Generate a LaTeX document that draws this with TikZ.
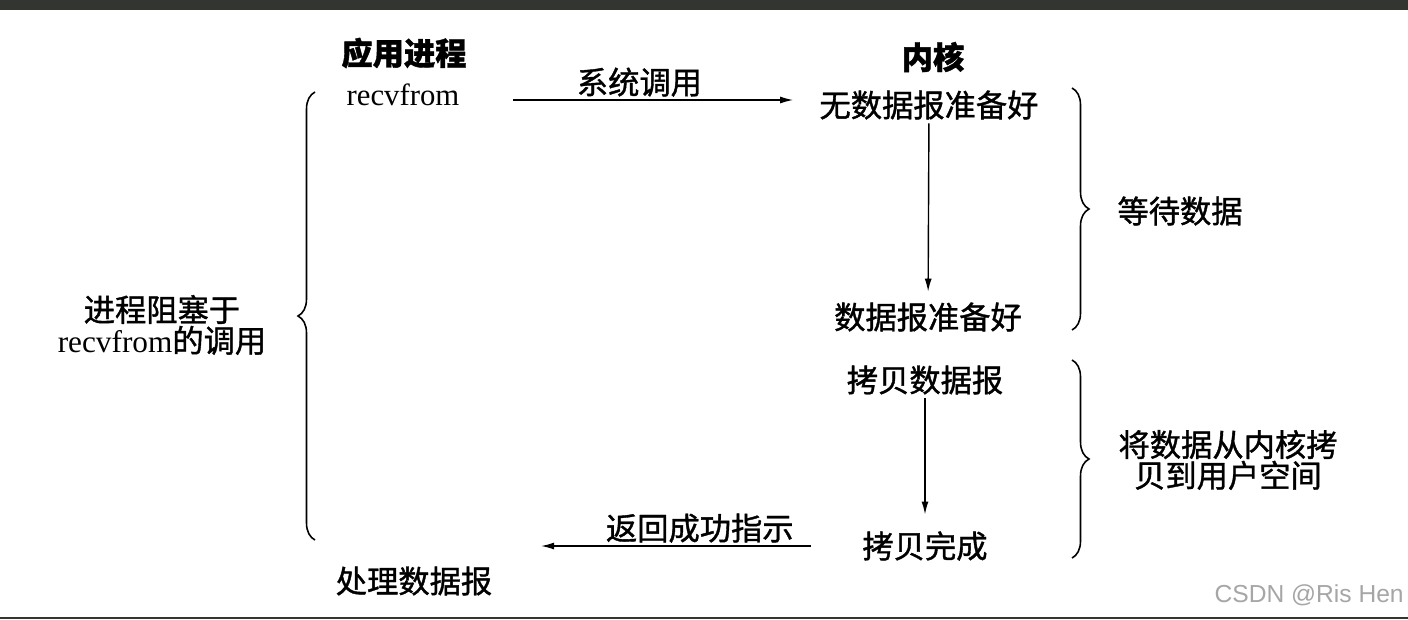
\documentclass[tikz,border=0pt]{standalone}
\usepackage{fontspec}
\setmainfont{Liberation Serif}
\newfontfamily\cjk{Noto Sans CJK SC}[FakeBold=1.2]
\newfontfamily\wmark{Liberation Sans}
\usetikzlibrary{arrows.meta,decorations.pathreplacing}
\definecolor{band}{HTML}{333531}
\newcommand{\lat}[1]{{\rmfamily #1}}

\begin{document}
\begin{tikzpicture}[x=0.02cm, y=-0.02cm,
    txt/.style={font=\cjk\fontsize{17.8}{17.5}\selectfont, inner sep=2pt, align=center},
    head/.style={txt, font=\cjk\bfseries\fontsize{17.8}{17.5}\selectfont},
    word/.style={txt, font=\rmfamily\fontsize{17.5}{17.5}\selectfont},
    flow/.style={line width=0.8pt, -{Latex[length=2.6mm,width=1.4mm]}},
    curly/.style={line width=0.9pt, decorate, decoration={brace, amplitude=0.34cm}}]
   \useasboundingbox (0,0) rectangle (1408,619);
   \fill[white] (0,0) rectangle (1408,619);
   \fill[band] (0,0) rectangle (1408,10);
   \fill[band] (0,617) rectangle (1408,619);
      \node[head] (app) at (404,53) {应用进程};
      \node[head] (kern) at (933,57) {内核};
      \node[word] (recv) at (403,95) {recvfrom};
      \node[txt] (nodata) at (929,105) {无数据报准备好};
      \node[txt] (ready) at (928,317) {数据报准备好};
      \node[txt] (copy) at (925,380) {拷贝数据报};
      \node[txt] (done) at (925,546) {拷贝完成};
      \node[txt] (proc) at (414,581) {处理数据报};
      \node[txt] (block) at (162,325) {进程阻塞于\\\lat{recvfrom}的调用};
      \node[txt] (wait) at (1180,211) {等待数据};
      \node[txt] (move) at (1228,460) {将数据从内核拷\\贝到用户空间};
      \coordinate (ret) at (541,546);
      \draw[flow, shorten <=1.0cm, shorten >=0.45cm] ([yshift=-0.1cm]recv.east) -- ([yshift=-0.1cm]recv.east -| nodata.west)
         node[midway, above, txt, inner sep=1.5pt] {系统调用};
      \draw[flow, shorten >=0.14cm] (nodata) -- (ready);
      \draw[flow, shorten >=0.26cm] (copy) -- (done);
      \draw[flow, shorten <=0.95cm] (done.west) -- (ret)
         node[midway, above, txt, inner sep=1.5pt] {返回成功指示};
      \draw[curly] (315,540) -- (315,92);
      \draw[curly] (1072,88) -- (1072,330);
      \draw[curly] (1072,360) -- (1072,558);
      \node[font=\wmark\fontsize{14}{14}\selectfont, text=black!35, anchor=east, inner sep=0pt] (mark) at (1404,595) {CSDN @Ris Hen};
   \end{tikzpicture}
\end{document}
